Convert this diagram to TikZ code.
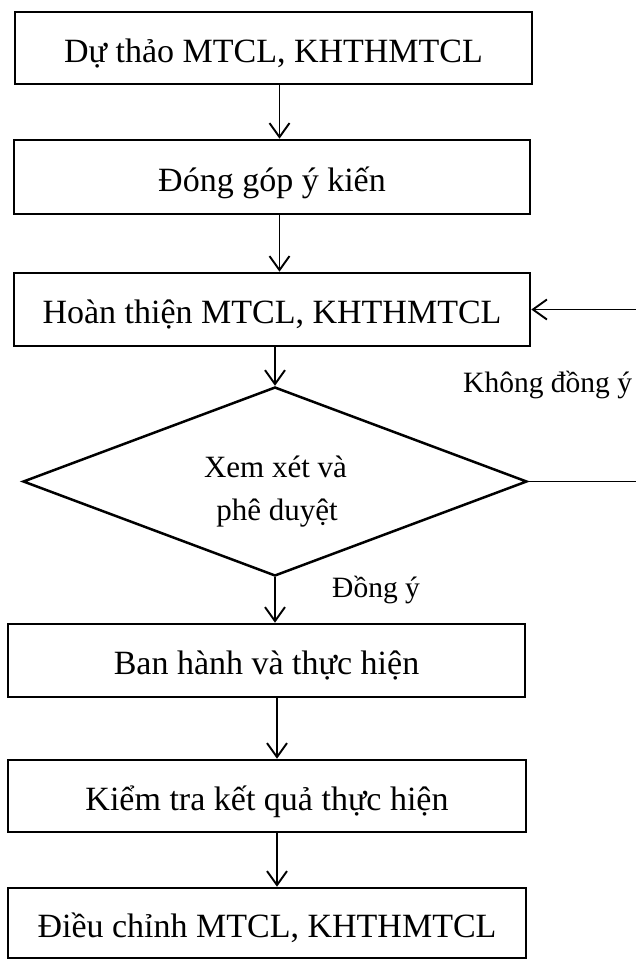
\documentclass[tikz,border=0pt]{standalone}
\usepackage{fontspec}
\setmainfont{Liberation Serif}
\usetikzlibrary{arrows.meta,shapes.geometric}
\begin{document}
\begin{tikzpicture}[x=1pt,y=-1pt,
  box/.style={draw,line width=2.6pt,inner sep=0pt,
    font=\fontsize{34}{40}\selectfont,text height=30pt,text depth=2pt},
  decision/.style={draw,diamond,line width=2.5pt,inner sep=0pt},
  dtext/.style={inner sep=0pt,font=\fontsize{31}{36}\selectfont},
  lbl/.style={inner sep=0pt,font=\fontsize{29.5}{34}\selectfont},
  arr/.style={line width=1.9pt,-{Straight Barb[length=14pt,width=20pt]}}]
\useasboundingbox (0,0) rectangle (636,959);
\fill[white] (0,0) rectangle (636,959);

\node[box,minimum width=517pt,minimum height=72pt] (b1) at (273.5,48) {Dự thảo MTCL, KHTHMTCL};
\node[box,minimum width=516pt,minimum height=74pt] (b2) at (272,177) {Đóng góp ý kiến};
\node[box,minimum width=516pt,minimum height=73pt] (b3) at (272,309.5) {Hoàn thiện MTCL, KHTHMTCL};
\node[decision,minimum width=504pt,minimum height=189pt] (rev) at (275,481.5) {};
\node[dtext,anchor=base] (rev1) at (275.5,477) {Xem xét và};
\node[dtext,anchor=base] (rev2) at (277,520) {phê duyệt};
\node[box,minimum width=517pt,minimum height=73pt] (b4) at (266.5,660.5) {Ban hành và thực hiện};
\node[box,minimum width=518pt,minimum height=72pt] (b5) at (267,796) {Kiểm tra kết quả thực hiện};
\node[box,minimum width=518pt,minimum height=70pt] (b6) at (267,923) {Điều chỉnh MTCL, KHTHMTCL};

\node[lbl,anchor=base west] (no) at (463,392) {Không đồng ý};
\node[lbl,anchor=base west] (yes) at (332,597) {Đồng ý};

\coordinate (axU) at (279.5,0);
\coordinate (axL) at (277,0);
\coordinate (loop) at (665,0);

\draw[arr] (b1.south -| axU) -- (b2.north -| axU);
\draw[arr] (b2.south -| axU) -- (b3.north -| axU);
\draw[arr] (b3.south -| rev.north) -- (rev.north);
\draw[arr] (rev.south) -- (b4.north -| rev.south);
\draw[arr] (b4.south -| axL) -- (b5.north -| axL);
\draw[arr] (b5.south -| axL) -- (b6.north -| axL);
\draw[arr] (rev.east) -- (rev.east -| loop) |- (b3.east);
\end{tikzpicture}
\end{document}
